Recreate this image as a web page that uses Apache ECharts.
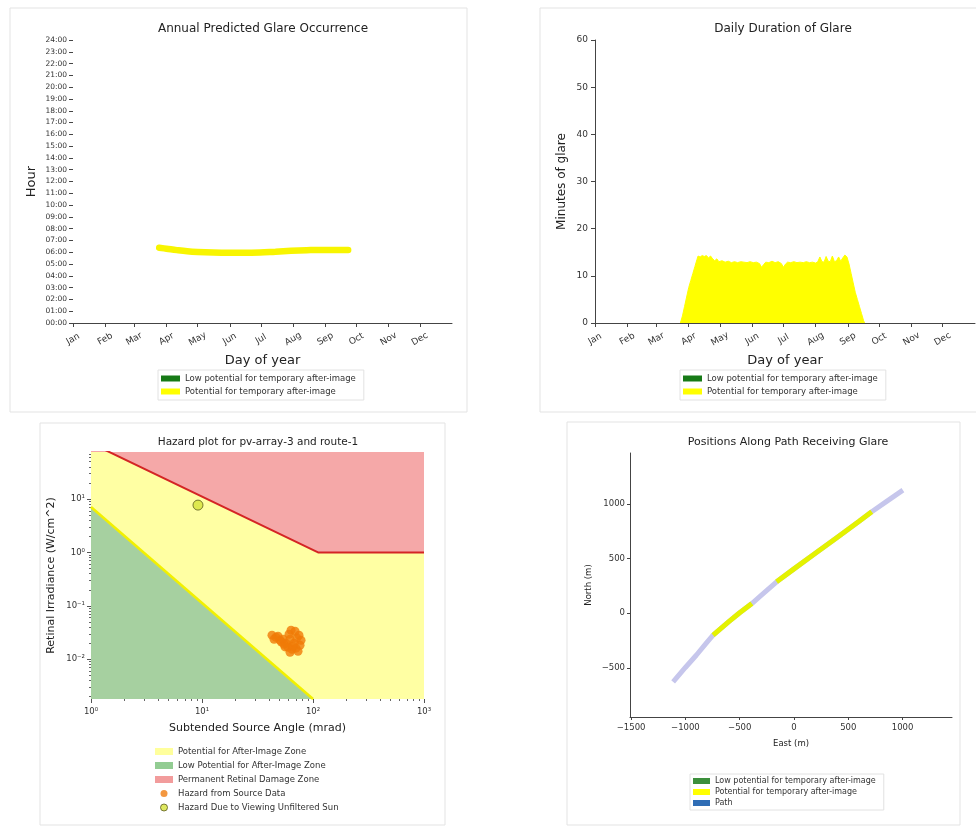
<!DOCTYPE html>
<html><head><meta charset="utf-8">
<script src="https://cdn.jsdelivr.net/npm/echarts@6/dist/echarts.min.js"></script>
<style>html,body{margin:0;padding:0;background:#fff}#c{width:976px;height:830px}</style>
</head><body><div id="c"></div>
<script>
const FONT = 'DejaVu Sans';

// ---------- Panel 1 & 2: day-of-year axes ----------
const monthNames = ['Jan','Feb','Mar','Apr','May','Jun','Jul','Aug','Sep','Oct','Nov','Dec'];
const monthStartDays = [0,31,59,90,120,151,181,212,243,273,304,334];
const dayRange = [0, 365];
const hourRange = [0, 24];
const hourTicks = [0,1,2,3,4,5,6,7,8,9,10,11,12,13,14,15,16,17,18,19,20,21,22,23,24];

// Annual predicted glare occurrence (day of year, hour of glare)
const bandDays  = [83, 90, 100, 110, 120, 135, 150, 165, 180, 195, 210, 225, 240, 252, 265];
const bandHours = [6.38, 6.3, 6.18, 6.08, 6.02, 5.97, 5.95, 5.95, 5.98, 6.05, 6.12, 6.17, 6.2, 6.2, 6.2];

// Daily duration of glare (day of year, minutes)
const durationDays = [82,84,86,88,90,92,94,96,98,99,101,103,105,107,109,111,113,115,117,119,122,125,128,131,134,137,140,143,146,149,152,155,158,160,162,164,167,170,173,176,179,181,183,185,188,191,194,197,200,203,206,209,212,214,216,218,220,222,224,226,228,230,232,234,236,238,240,242,244,246,248,250,252,254,256,258,259];
const durationMinutes = [0,1.5,3.5,5.5,7.5,9,10.5,12,13.5,14.2,14,14.3,14.1,14.3,13.8,14.2,13.6,13.2,13.6,13.0,13.2,12.9,13.1,12.8,13.0,12.8,13.0,12.9,12.8,13.0,12.8,12.9,12.6,11.8,12.4,12.9,12.8,13.1,12.8,13.0,12.6,11.8,12.5,12.9,12.8,13.0,12.8,12.9,12.8,13.0,12.8,12.9,12.7,13.0,14.0,13.0,12.9,14.1,13.1,13.0,14.2,13.0,13.2,14.0,13.1,13.8,14.4,14.0,12.5,10.5,8.5,6.5,5,3.5,2,0.5,0];
const minutesRange = [0, 60];
const minutesTicks = [0,10,20,30,40,50,60];

// ---------- Panel 3: hazard plot (mrad, W/cm^2) ----------
const angleRange = [1, 1000];
const irradianceRange = [0.0018, 76];
const angleTicks = [1, 10, 100, 1000];
const irradianceTicks = [0.01, 0.1, 1, 10];
const burnLine = [[1, 111], [111, 1], [1000, 1]];          // permanent retinal damage threshold
const afterImageLine = [[1, 7.1], [100, 0.0018]];          // after-image threshold
const sourceAngle = [42.7,46.4,50.4,54.8,59.6,64.7,70.3,76.4,78,74.8,68.9,63.4,60.8,62.1,48.4,53.7,57.1,67.5,44.6,73.3,62.1,52.0,56.0,66.0,71.5];
const sourceIrr   = [0.0282,0.0258,0.0227,0.0191,0.0168,0.0154,0.0161,0.0183,0.0227,0.0282,0.0335,0.035,0.0294,0.0237,0.027,0.0237,0.02,0.02,0.0237,0.0141,0.0135,0.021,0.017,0.0175,0.025];
const sunAngle = [9.2];
const sunIrr = [7.7];

// ---------- Panel 4: positions along path ----------
const eastRange = [-1510, 1455];
const northRange = [-950, 1465];
const eastTicks = [-1500,-1000,-500,0,500,1000];
const northTicks = [-500,0,500,1000];
const pathEast  = [-1113,-1000,-900,-800,-745,-600,-500,-388,-300,-160,0,200,400,600,716,850,1003];
const pathNorth = [-628,-497,-385,-265,-201,-78,4,88,165,287,405,550,695,840,927,1020,1125];
const glare1East  = [-745,-600,-500,-388];
const glare1North = [-201,-78,4,88];
const glare2East  = [-160,0,200,400,600,716];
const glare2North = [287,405,550,695,840,927];

// ---------- helpers ----------
const L = v => Math.log10(v);
const zip = (a, b) => a.map((v, i) => [v, b[i]]);
const supMap = {'-':'\u207B','0':'\u2070','1':'\u00B9','2':'\u00B2','3':'\u00B3','4':'\u2074','5':'\u2075'};
const pow10Label = v => '10' + String(Math.round(v)).split('').map(c => supMap[c]).join('');
const minorLogs = (lo, hi) => { const r=[]; for (let n=lo;n<=hi;n++) for (let k=2;k<=9;k++) r.push(L(k*Math.pow(10,n))); return r; };
const pad2 = n => (n < 10 ? '0' : '') + n;

const axisLineStyle = { color: '#444', width: 1 };
const lbl = (size, extra) => Object.assign({ fontFamily: FONT, fontSize: size, color: '#333' }, extra || {});
const nameStyle = size => ({ fontFamily: FONT, fontSize: size, color: '#222' });

const LOW = 'Low potential for temporary after-image';
const POT = 'Potential for temporary after-image';

function monthAxis(gridIndex) {
  return {
    type: 'value', gridIndex, position: 'bottom', min: dayRange[0], max: dayRange[1],
    name: 'Day of year', nameLocation: 'middle', nameGap: 31, nameTextStyle: nameStyle(13),
    axisLine: { show: true, onZero: false, lineStyle: axisLineStyle },
    axisTick: { show: true, length: 4, lineStyle: axisLineStyle, customValues: monthStartDays },
    axisLabel: lbl(9, { customValues: monthStartDays, rotate: 30, align: 'center', verticalAlign: 'middle', margin: 16,
      formatter: v => monthNames[monthStartDays.indexOf(Math.round(v))] || '' }),
    splitLine: { show: false }
  };
}

const option = {
  animation: false,
  backgroundColor: '#fff',
  graphic: [
    { type: 'rect', shape: { x: 10, y: 8, width: 457, height: 404 }, style: { fill: 'none', stroke: '#e3e3e3', lineWidth: 1 }, z: -10 },
    { type: 'rect', shape: { x: 540, y: 8, width: 450, height: 404 }, style: { fill: 'none', stroke: '#e3e3e3', lineWidth: 1 }, z: -10 },
    { type: 'rect', shape: { x: 40, y: 423, width: 405, height: 402 }, style: { fill: 'none', stroke: '#e3e3e3', lineWidth: 1 }, z: -10 },
    { type: 'rect', shape: { x: 567, y: 422, width: 393, height: 403 }, style: { fill: 'none', stroke: '#e3e3e3', lineWidth: 1 }, z: -10 },
    { type: 'text', x: 263, y: 29, style: { text: 'Annual Predicted Glare Occurrence', fontFamily: FONT, fontSize: 12, fill: '#222', textAlign: 'center', textVerticalAlign: 'middle' } },
    { type: 'text', x: 783, y: 29, style: { text: 'Daily Duration of Glare', fontFamily: FONT, fontSize: 12, fill: '#222', textAlign: 'center', textVerticalAlign: 'middle' } },
    { type: 'text', x: 258, y: 442, style: { text: 'Hazard plot for pv-array-3 and route-1', fontFamily: FONT, fontSize: 10.5, fill: '#222', textAlign: 'center', textVerticalAlign: 'middle' } },
    { type: 'text', x: 788, y: 442, style: { text: 'Positions Along Path Receiving Glare', fontFamily: FONT, fontSize: 11, fill: '#222', textAlign: 'center', textVerticalAlign: 'middle' } }
  ],
  grid: [
    { left: 73, top: 40, width: 379, height: 283 },
    { left: 595, top: 40, width: 380, height: 283 },
    { left: 91, top: 452, width: 333, height: 247 },
    { left: 630, top: 453, width: 322, height: 264 }
  ],
  xAxis: [
    monthAxis(0),
    monthAxis(1),
    { type: 'value', gridIndex: 2, position: 'bottom', min: L(angleRange[0]), max: L(angleRange[1]),
      name: 'Subtended Source Angle (mrad)', nameLocation: 'middle', nameGap: 24, nameTextStyle: nameStyle(11),
      axisLine: { show: false, onZero: false },
      axisTick: { show: true, length: 4, lineStyle: { color: '#555' }, customValues: angleTicks.map(L) },
      axisLabel: lbl(8.5, { customValues: angleTicks.map(L), margin: 8, formatter: pow10Label }),
      splitLine: { show: false } },
    { type: 'value', gridIndex: 2, position: 'bottom', offset: 0, min: L(angleRange[0]), max: L(angleRange[1]),
      axisLine: { show: false, onZero: false }, axisLabel: { show: false }, splitLine: { show: false },
      axisTick: { show: true, length: 2, lineStyle: { color: '#666' }, customValues: minorLogs(0, 2) } },
    { type: 'value', gridIndex: 3, position: 'bottom', min: eastRange[0], max: eastRange[1],
      name: 'East (m)', nameLocation: 'middle', nameGap: 22, nameTextStyle: nameStyle(8.5),
      axisLine: { show: true, onZero: false, lineStyle: axisLineStyle },
      axisTick: { show: true, length: 3, lineStyle: axisLineStyle, customValues: eastTicks },
      axisLabel: lbl(8.5, { customValues: eastTicks, margin: 6, formatter: v => String(Math.round(v)).replace('-', '\u2212') }),
      splitLine: { show: false } }
  ],
  yAxis: [
    { type: 'value', gridIndex: 0, position: 'left', min: hourRange[0], max: hourRange[1],
      name: 'Hour', nameLocation: 'middle', nameGap: 35, nameTextStyle: nameStyle(13),
      axisLine: { show: false, onZero: false },
      axisTick: { show: true, length: 4, lineStyle: axisLineStyle, customValues: hourTicks },
      axisLabel: lbl(7.5, { customValues: hourTicks, margin: 6, formatter: v => pad2(Math.round(v)) + ':00' }),
      splitLine: { show: false } },
    { type: 'value', gridIndex: 1, position: 'left', min: minutesRange[0], max: minutesRange[1],
      name: 'Minutes of glare', nameLocation: 'middle', nameGap: 27, nameTextStyle: nameStyle(12),
      axisLine: { show: true, onZero: false, lineStyle: axisLineStyle },
      axisTick: { show: true, length: 4, lineStyle: axisLineStyle, customValues: minutesTicks },
      axisLabel: lbl(9, { customValues: minutesTicks, margin: 7 }),
      splitLine: { show: false } },
    { type: 'value', gridIndex: 2, position: 'left', min: L(irradianceRange[0]), max: L(irradianceRange[1]),
      name: 'Retinal Irradiance (W/cm^2)', nameLocation: 'middle', nameGap: 34, nameTextStyle: nameStyle(11),
      axisLine: { show: false, onZero: false },
      axisTick: { show: true, length: 4, lineStyle: { color: '#555' }, customValues: irradianceTicks.map(L) },
      axisLabel: lbl(8.5, { customValues: irradianceTicks.map(L), margin: 6, formatter: pow10Label }),
      splitLine: { show: false } },
    { type: 'value', gridIndex: 2, position: 'left', offset: 0, min: L(irradianceRange[0]), max: L(irradianceRange[1]),
      axisLine: { show: false, onZero: false }, axisLabel: { show: false }, splitLine: { show: false },
      axisTick: { show: true, length: 2, lineStyle: { color: '#666' }, customValues: minorLogs(-3, 1) } },
    { type: 'value', gridIndex: 3, position: 'left', min: northRange[0], max: northRange[1],
      name: 'North (m)', nameLocation: 'middle', nameGap: 37, nameTextStyle: nameStyle(8.5),
      axisLine: { show: true, onZero: false, lineStyle: axisLineStyle },
      axisTick: { show: true, length: 3, lineStyle: axisLineStyle, customValues: northTicks },
      axisLabel: lbl(8.5, { customValues: northTicks, margin: 5, formatter: v => String(Math.round(v)).replace('-', '\u2212') }),
      splitLine: { show: false } }
  ],
  legend: [
    { left: 158, top: 370, orient: 'vertical', selectedMode: false, itemWidth: 19, itemHeight: 6, itemGap: 4,
      padding: [4, 8, 4, 3], borderColor: '#e2e2e2', borderWidth: 1,
      textStyle: { fontFamily: FONT, fontSize: 8.5, color: '#333' },
      data: [ { name: LOW, icon: 'rect', itemStyle: { color: '#177a17' } }, { name: POT, icon: 'rect', itemStyle: { color: '#ffff00' } } ] },
    { left: 680, top: 370, orient: 'vertical', selectedMode: false, itemWidth: 19, itemHeight: 6, itemGap: 4,
      padding: [4, 8, 4, 3], borderColor: '#e2e2e2', borderWidth: 1,
      textStyle: { fontFamily: FONT, fontSize: 8.5, color: '#333' },
      data: [ { name: LOW, icon: 'rect', itemStyle: { color: '#177a17' } }, { name: POT, icon: 'rect', itemStyle: { color: '#ffff00' } } ] },
    { left: 152, top: 744, orient: 'vertical', selectedMode: false, itemWidth: 18, itemHeight: 7, itemGap: 5,
      padding: [3, 8, 3, 3], borderColor: '#e8e8e8', borderWidth: 0,
      textStyle: { fontFamily: FONT, fontSize: 8.5, color: '#333' },
      data: [
        { name: 'Potential for After-Image Zone', icon: 'rect', itemStyle: { color: '#ffff9c' } },
        { name: 'Low Potential for After-Image Zone', icon: 'rect', itemStyle: { color: '#92cc92' } },
        { name: 'Permanent Retinal Damage Zone', icon: 'rect', itemStyle: { color: '#f29c9c' } },
        { name: 'Hazard from Source Data', icon: 'circle', itemStyle: { color: '#f07d10' } },
        { name: 'Hazard Due to Viewing Unfiltered Sun', icon: 'circle', itemStyle: { color: '#d6e23a', borderColor: '#5a5a1a', borderWidth: 1 } }
      ] },
    { left: 690, top: 774, orient: 'vertical', selectedMode: false, itemWidth: 17, itemHeight: 6, itemGap: 3,
      padding: [3, 8, 3, 3], borderColor: '#e2e2e2', borderWidth: 1,
      textStyle: { fontFamily: FONT, fontSize: 8, color: '#333' },
      data: [
        { name: LOW, icon: 'rect', itemStyle: { color: '#3c8f3c' } },
        { name: POT, icon: 'rect', itemStyle: { color: '#ffff00' } },
        { name: 'Path', icon: 'rect', itemStyle: { color: '#2f6db5' } }
      ] }
  ],
  series: [
    // Panel 1
    { type: 'line', name: LOW, xAxisIndex: 0, yAxisIndex: 0, data: [], color: '#177a17' },
    { type: 'line', name: POT, xAxisIndex: 0, yAxisIndex: 0, data: zip(bandDays, bandHours), color: '#ffff00',
      showSymbol: false, smooth: 0.4, lineStyle: { width: 6.5, color: '#f8f500', cap: 'round' } },
    // Panel 2
    { type: 'line', name: LOW, xAxisIndex: 1, yAxisIndex: 1, data: [], color: '#177a17' },
    { type: 'line', name: POT, xAxisIndex: 1, yAxisIndex: 1, data: zip(durationDays, durationMinutes), color: '#ffff00',
      showSymbol: false, lineStyle: { width: 1, color: '#ffff00' }, areaStyle: { color: '#ffff00', opacity: 1 } },
    // Panel 3
    { type: 'line', name: 'Potential for After-Image Zone', xAxisIndex: 2, yAxisIndex: 2, z: 1,
      data: [[L(angleRange[0]), L(irradianceRange[1])], [L(angleRange[1]), L(irradianceRange[1])]],
      showSymbol: false, lineStyle: { width: 0 }, areaStyle: { color: '#ffffa3', opacity: 1, origin: 'start' }, color: '#ffff9c' },
    { type: 'line', name: 'Low Potential for After-Image Zone', xAxisIndex: 2, yAxisIndex: 2, z: 2, clip: true,
      data: afterImageLine.map(p => [L(p[0]), L(p[1])]), showSymbol: false,
      lineStyle: { width: 2.5, color: '#f2f000' }, areaStyle: { color: '#a6d0a0', opacity: 1, origin: 'start' }, color: '#92cc92' },
    { type: 'line', name: 'Permanent Retinal Damage Zone', xAxisIndex: 2, yAxisIndex: 2, z: 2, clip: true,
      data: burnLine.map(p => [L(p[0]), L(p[1])]), showSymbol: false,
      lineStyle: { width: 2, color: '#d42525', cap: 'butt' }, areaStyle: { color: '#f5a8a8', opacity: 1, origin: 'end' }, color: '#f29c9c' },
    { type: 'scatter', name: 'Hazard from Source Data', xAxisIndex: 2, yAxisIndex: 2, z: 5,
      data: zip(sourceAngle, sourceIrr).map(p => [L(p[0]), L(p[1])]), symbolSize: 9,
      itemStyle: { color: '#f07a08' } },
    { type: 'scatter', name: 'Hazard Due to Viewing Unfiltered Sun', xAxisIndex: 2, yAxisIndex: 2, z: 5,
      data: zip(sunAngle, sunIrr).map(p => [L(p[0]), L(p[1])]), symbolSize: 10,
      itemStyle: { color: '#d6e23a', borderColor: '#5a5a1a', borderWidth: 1 } },
    // Panel 4
    { type: 'line', name: 'Path', xAxisIndex: 4, yAxisIndex: 4, z: 2, data: zip(pathEast, pathNorth),
      showSymbol: false, lineStyle: { width: 5, color: '#c6c6ec' }, color: '#2f6db5' },
    { type: 'line', name: LOW, xAxisIndex: 4, yAxisIndex: 4, data: [], color: '#3c8f3c' },
    { type: 'line', name: POT, xAxisIndex: 4, yAxisIndex: 4, z: 3, data: zip(glare1East, glare1North),
      showSymbol: false, lineStyle: { width: 5, color: '#e4f200' }, color: '#ffff00' },
    { type: 'line', name: POT, xAxisIndex: 4, yAxisIndex: 4, z: 3, data: zip(glare2East, glare2North),
      showSymbol: false, lineStyle: { width: 5, color: '#e4f200' }, color: '#ffff00' }
  ]
};

const chart = echarts.init(document.getElementById('c'), null, { renderer: 'canvas' });
chart.setOption(option);
</script>
</body></html>
